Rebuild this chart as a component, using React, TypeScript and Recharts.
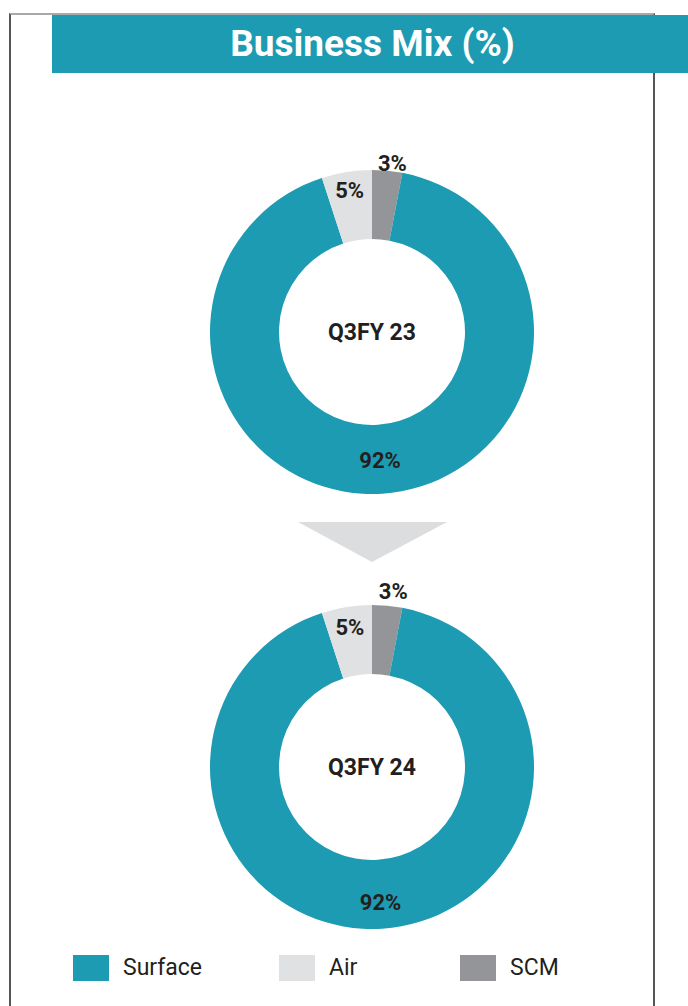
import React from 'react'
import { PieChart, Pie, Cell } from 'recharts'

const categories = ['Surface', 'Air', 'SCM']
const q3fy23 = [92, 5, 3]
const q3fy24 = [92, 5, 3]
const periods = ['Q3FY 23', 'Q3FY 24']

const colors: Record<string, string> = {
  Surface: '#1c9bb2',
  Air: '#e0e1e2',
  SCM: '#939598',
}

// radius at which each slice label sits, per donut (labels were hand placed in the source)
const labelRadius: Record<string, number>[] = [
  { SCM: 170, Air: 143, Surface: 129 },
  { SCM: 177, Air: 141, Surface: 136 },
]

// slices go clockwise from 12 o'clock: SCM, Surface, Air
const pieOrder = ['SCM', 'Surface', 'Air']
const toData = (vals: number[]) =>
  pieOrder.map((name) => ({ name, value: vals[categories.indexOf(name)] }))

const RAD = Math.PI / 180
const font = 'Roboto, "Noto Sans", sans-serif'

const makeLabel = (i: number) => (p: any) => {
  const r = labelRadius[i][p.name] ?? 130
  // nudge the small outer label a touch to the right
  const ang = p.name === 'SCM' ? p.midAngle - 1.5 : p.midAngle
  const x = p.cx + r * Math.cos(-ang * RAD)
  const y = p.cy + r * Math.sin(-ang * RAD)
  return (
    <g>
      <text x={x} y={y} textAnchor="middle" dominantBaseline="central" fill="#231f20" fontSize={22} fontWeight={700} fontFamily={font}>
        {p.value}%
      </text>
      {p.index === 0 && (
        <text x={p.cx} y={p.cy} textAnchor="middle" dominantBaseline="central" fill="#231f20" fontSize={23} fontWeight={700} fontFamily={font}>
          {periods[i]}
        </text>
      )}
    </g>
  )
}

export default function App() {
  const series = [q3fy23, q3fy24]
  const centersY = [332, 767]
  return (
    <div style={{ position: 'absolute', left: 0, top: 0, width: 688, height: 1006, background: '#fff', fontFamily: font, overflow: 'hidden' }}>
      <div style={{ position: 'absolute', left: 9, top: 13, width: 642, height: 1000, borderLeft: '2px solid #555', borderRight: '2px solid #555', borderTop: '2px solid #a7a9ac' }} />
      <div style={{ position: 'absolute', left: 52, top: 15, width: 636, height: 58, background: '#1c9bb2' }}>
        <div style={{ position: 'absolute', left: 0, top: 0, width: 641, height: 58, lineHeight: '58px', textAlign: 'center', color: '#fff', fontSize: 37, fontWeight: 700, whiteSpace: 'nowrap' }}>
          Business Mix (%)
        </div>
      </div>
      <svg style={{ position: 'absolute', left: 0, top: 0 }} width={688} height={1006}>
        <polygon points="298,522 447,522 372,562" fill="#dcddde" />
      </svg>
      <div style={{ position: 'absolute', left: 0, top: 0 }}>
        <PieChart width={688} height={1006} margin={{ top: 0, right: 0, bottom: 0, left: 0 }}>
          {series.map((vals, i) => (
            <Pie
              key={periods[i]}
              data={toData(vals)}
              dataKey="value"
              nameKey="name"
              cx={372}
              cy={centersY[i]}
              innerRadius={93}
              outerRadius={162}
              startAngle={90}
              endAngle={-270}
              stroke="none"
              label={makeLabel(i)}
              labelLine={false}
              isAnimationActive={false}
            >
              {toData(vals).map((d) => (
                <Cell key={d.name} fill={colors[d.name]} />
              ))}
            </Pie>
          ))}
        </PieChart>
      </div>
      {categories.map((c, i) => (
        <div key={c} style={{ position: 'absolute', left: [73, 279, 460][i], top: 954, display: 'flex', alignItems: 'center' }}>
          <div style={{ width: 36, height: 26, background: colors[c] }} />
          <span style={{ marginLeft: 14, fontSize: 23, color: '#231f20' }}>{c}</span>
        </div>
      ))}
    </div>
  )
}
